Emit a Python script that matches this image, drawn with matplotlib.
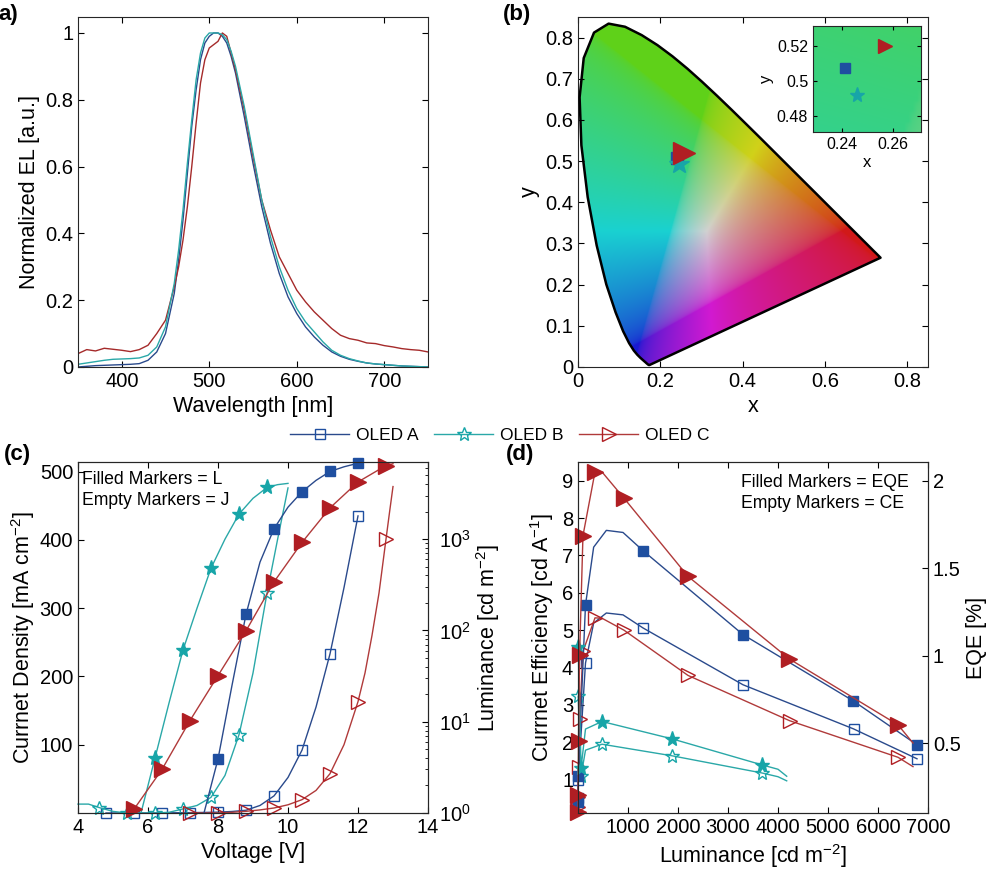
import numpy as np
import matplotlib.pyplot as plt
from matplotlib.patches import Polygon
from matplotlib.lines import Line2D

plt.rcParams['font.family'] = ['Liberation Sans', 'DejaVu Sans']
plt.rcParams['mathtext.default'] = 'regular'
plt.rcParams['xtick.direction'] = 'in'
plt.rcParams['ytick.direction'] = 'in'
plt.rcParams['xtick.major.size'] = 4
plt.rcParams['ytick.major.size'] = 4
plt.rcParams['xtick.minor.size'] = 2
plt.rcParams['ytick.minor.size'] = 2
plt.rcParams['axes.linewidth'] = 0.8
plt.rcParams['axes.edgecolor'] = '#262626'

# ---- colours
blue_m, blue_l = '#1f4fa0', '#2a4a8c'
teal_m, teal_l = '#17a5a8', '#2aa8a8'
red_m, red_l = '#b01e23', '#b03a3a'

# ---- (a) EL spectra
wavelength = [350, 360, 370, 380, 390, 400, 410, 420, 430, 440, 450, 460, 465, 470, 475,
              480, 485, 490, 495, 500, 505, 510, 515, 520, 525, 530, 540, 550, 560, 570,
              580, 590, 600, 610, 620, 630, 640, 650, 660, 670, 680, 690, 700, 710, 720,
              730, 740, 750]
el_a = [0.0, 0.002, 0.004, 0.005, 0.006, 0.007, 0.008, 0.010, 0.020, 0.045, 0.10, 0.22,
        0.32, 0.44, 0.58, 0.72, 0.83, 0.92, 0.97, 0.99, 1.0, 1.0, 0.99, 0.97, 0.93, 0.88,
        0.75, 0.61, 0.48, 0.37, 0.28, 0.21, 0.16, 0.12, 0.09, 0.065, 0.045, 0.032,
        0.023, 0.017, 0.012, 0.009, 0.007, 0.005, 0.003, 0.002, 0.001, 0.0]
el_b = [0.008, 0.012, 0.016, 0.020, 0.023, 0.024, 0.025, 0.027, 0.035, 0.06, 0.12, 0.25,
        0.35, 0.47, 0.61, 0.74, 0.86, 0.94, 0.985, 1.0, 1.0, 1.0, 0.995, 0.98, 0.945,
        0.90, 0.78, 0.64, 0.50, 0.39, 0.30, 0.23, 0.175, 0.135, 0.105, 0.075, 0.05,
        0.035, 0.025, 0.018, 0.012, 0.009, 0.007, 0.005, 0.003, 0.002, 0.001, 0.0]
el_c = [0.040, 0.052, 0.048, 0.056, 0.053, 0.050, 0.046, 0.052, 0.065, 0.10, 0.14, 0.24,
        0.30, 0.38, 0.48, 0.60, 0.73, 0.85, 0.92, 0.955, 0.965, 0.975, 1.0, 0.99, 0.94,
        0.89, 0.77, 0.63, 0.50, 0.41, 0.33, 0.28, 0.23, 0.195, 0.165, 0.14, 0.115,
        0.095, 0.085, 0.080, 0.072, 0.070, 0.064, 0.060, 0.055, 0.052, 0.050, 0.045]

# ---- (b) CIE 1931 spectral locus (380-700 nm) and colour coordinates
cie_x = [0.1741, 0.1740, 0.1738, 0.1736, 0.1733, 0.1730, 0.1726, 0.1721, 0.1714, 0.1703,
         0.1689, 0.1669, 0.1644, 0.1611, 0.1566, 0.1510, 0.1440, 0.1355, 0.1241, 0.1096,
         0.0913, 0.0687, 0.0454, 0.0235, 0.0082, 0.0039, 0.0139, 0.0389, 0.0743, 0.1142,
         0.1547, 0.1929, 0.2296, 0.2658, 0.3016, 0.3373, 0.3731, 0.4087, 0.4441, 0.4788,
         0.5125, 0.5448, 0.5752, 0.6029, 0.6270, 0.6482, 0.6658, 0.6801, 0.6915, 0.7006,
         0.7079, 0.7140, 0.7190, 0.7230, 0.7260, 0.7283, 0.7300, 0.7311, 0.7320, 0.7327,
         0.7334, 0.7340, 0.7344, 0.7346, 0.7347]
cie_y = [0.0050, 0.0050, 0.0049, 0.0049, 0.0048, 0.0048, 0.0048, 0.0048, 0.0051, 0.0058,
         0.0069, 0.0086, 0.0109, 0.0138, 0.0177, 0.0227, 0.0297, 0.0399, 0.0578, 0.0868,
         0.1327, 0.2007, 0.2950, 0.4127, 0.5384, 0.6548, 0.7502, 0.8120, 0.8338, 0.8262,
         0.8059, 0.7816, 0.7543, 0.7243, 0.6923, 0.6589, 0.6245, 0.5896, 0.5547, 0.5202,
         0.4866, 0.4544, 0.4242, 0.3965, 0.3725, 0.3514, 0.3340, 0.3197, 0.3083, 0.2993,
         0.2920, 0.2859, 0.2809, 0.2770, 0.2740, 0.2717, 0.2700, 0.2689, 0.2680, 0.2673,
         0.2666, 0.2660, 0.2656, 0.2654, 0.2653]
cie_a = (0.2409, 0.5071)
cie_b = (0.2460, 0.4918)
cie_c = (0.2567, 0.5198)

# ---- (c) J-V-L
volt_a_j = [4.8, 5.2, 5.6, 6.0, 6.4, 6.8, 7.2, 7.6, 8.0, 8.4, 8.8, 9.2, 9.6, 10.0, 10.4,
            10.8, 11.2, 11.6, 12.0]
curr_a = [0, 0, 0, 0, 0.2, 0.3, 0.5, 0.8, 1.2, 2.2, 4, 11, 25, 52, 92, 155, 233, 330, 435]
mark_a_j = [4.8, 5.6, 6.4, 7.2, 8.0, 8.8, 9.6, 10.4, 11.2, 12.0]
volt_b_j = [4.0, 4.3, 4.6, 5.0, 5.4, 5.8, 6.2, 6.6, 7.0, 7.4, 7.8, 8.2, 8.6, 9.0, 9.4,
            9.7, 10.0]
curr_b = [13, 13, 8, 2.3, 0, 0, 0, 1, 5.9, 11, 22.9, 55, 114.6, 205, 322, 400, 476]
mark_b_j = [4.6, 5.4, 6.2, 7.0, 7.8, 8.6, 9.4]
volt_c_j = [7.2, 7.6, 8.0, 8.4, 8.8, 9.2, 9.6, 10.0, 10.4, 10.8, 11.2, 11.6, 12.0, 12.2,
            12.4, 12.6, 12.8, 12.9, 13.0]
curr_c = [0, 0, 0, 1, 2.4, 4.5, 7.3, 12, 19.5, 33, 57.5, 100, 163, 205, 260, 322, 401,
          440, 478]
mark_c_j = [7.2, 8.0, 8.8, 9.6, 10.4, 11.2, 12.0, 12.8]

volt_a_l = [7.6, 8.0, 8.4, 8.8, 9.2, 9.6, 10.0, 10.4, 10.8, 11.2, 11.6, 12.0]
lum_a = [1.0, 3.9, 25, 150, 560, 1300, 2240, 3300, 4400, 5510, 6200, 6780]
mark_a_l = [8.0, 8.8, 9.6, 10.4, 11.2, 12.0]
volt_b_l = [5.8, 6.2, 6.6, 7.0, 7.4, 7.8, 8.2, 8.6, 9.0, 9.4, 9.7, 10.0]
lum_b = [1.0, 4.0, 16, 61, 175, 480, 1000, 1880, 2800, 3680, 3950, 4080]
mark_b_l = [6.2, 7.0, 7.8, 8.6, 9.4]
volt_c_l = [5.6, 6.4, 7.2, 8.0, 8.8, 9.6, 10.4, 11.2, 12.0, 12.8, 13.0]
lum_c = [1.1, 3.0, 10.3, 32, 99, 340, 920, 2200, 4230, 6400, 6700]
mark_c_l = [5.6, 6.4, 7.2, 8.0, 8.8, 9.6, 10.4, 11.2, 12.0, 12.8]

# ---- (d) efficiencies vs luminance
lumd_a = [0.5, 3.9, 150, 313, 567, 900, 1300, 3300, 5510, 6780]
eqe_a = [0.16, 0.31, 1.29, 1.62, 1.716, 1.704, 1.60, 1.12, 0.74, 0.49]
ce_a = [0.5, 1.0, 4.12, 5.19, 5.46, 5.41, 5.06, 3.54, 2.36, 1.56]
mark_a_d = [0.5, 3.9, 150, 1300, 3300, 5510, 6780]
lumd_b = [4.0, 61, 150, 480, 1880, 3680, 4000, 4174]
eqe_b = [1.05, 0.357, 0.58, 0.623, 0.524, 0.375, 0.35, 0.31]
ce_b = [3.23, 1.10, 1.79, 1.95, 1.64, 1.18, 1.08, 0.97]
mark_b_d = [4.0, 61, 480, 1880, 3680]
lumd_c = [1.1, 3.0, 10.3, 32, 99, 340, 480, 920, 2200, 4230, 6400, 6700]
eqe_c = [0.108, 0.204, 0.509, 1.005, 1.685, 2.05, 2.05, 1.90, 1.453, 0.98, 0.604, 0.50]
ce_c = [0.28, 0.53, 1.33, 2.63, 4.43, 5.33, 5.32, 5.0, 3.79, 2.58, 1.60, 1.35]
mark_c_d = [1.1, 3.0, 10.3, 32, 99, 340, 920, 2200, 4230, 6400]


def idx(xs, marks):
    return [xs.index(m) for m in marks]


fig = plt.figure(figsize=(10, 8.83), dpi=100)
tick_fs, label_fs, note_fs = 14.5, 15.5, 12.7

# ================= (a)
ax = fig.add_axes([0.078, 0.5844, 0.350, 0.3964])
ax.plot(wavelength, el_a, color=blue_l, lw=1.0)
ax.plot(wavelength, el_c, color='#a52a2a', lw=1.0)
ax.plot(wavelength, el_b, color=teal_l, lw=1.0)
ax.set_xlim(350, 750)
ax.set_ylim(0, 1.048)
ax.set_xticks([400, 500, 600, 700])
ax.set_yticks([0, 0.2, 0.4, 0.6, 0.8, 1])
ax.set_yticklabels(['0', '0.2', '0.4', '0.6', '0.8', '1'])
ax.tick_params(top=True, right=True, labelsize=tick_fs)
ax.set_xlabel('Wavelength [nm]', fontsize=label_fs)
ax.set_ylabel('Normalized EL [a.u.]', fontsize=label_fs)


# ================= (b)
def chroma_image(n=500, lim=0.85):
    g = np.linspace(0, lim, n)
    xx, yy = np.meshgrid(g, g)
    yy_s = np.maximum(yy, 1e-3)
    X = xx / yy_s
    Z = (1 - xx - yy) / yy_s
    M = np.array([[3.2406, -1.5372, -0.4986],
                  [-0.9689, 1.8758, 0.0415],
                  [0.0557, -0.2040, 1.0570]])
    xyz = np.stack([X, np.ones_like(X), Z], axis=-1)
    rgb = xyz @ M.T
    rgb = np.clip(rgb, 0, None)
    rgb = rgb / np.maximum(rgb.max(axis=-1, keepdims=True), 1e-6)
    rgb = rgb ** (1 / 2.2)
    r, gch, b = rgb[..., 0], rgb[..., 1], rgb[..., 2]
    rgb[..., 0] = r + 0.38 * gch * (1 - b) * (1 - r)
    rgb = 0.72 * rgb + 0.1
    return np.clip(rgb, 0, 1)


img = chroma_image()
ax = fig.add_axes([0.578, 0.5844, 0.350, 0.3964])
im = ax.imshow(img, extent=[0, 0.85, 0, 0.85], origin='lower', aspect='auto',
               interpolation='bilinear')
locus = Polygon(np.column_stack([cie_x, cie_y]), closed=True, facecolor='none',
                edgecolor='black', lw=1.8, zorder=3, joinstyle='round')
ax.add_patch(locus)
im.set_clip_path(locus)
ax.plot(*cie_a, marker='s', ms=9, color=blue_m, ls='none', zorder=4)
ax.plot(*cie_b, marker='*', ms=15, color=teal_m, ls='none', zorder=4)
ax.plot(*cie_c, marker='>', ms=16, color=red_m, ls='none', zorder=5)
ax.set_xlim(0, 0.85)
ax.set_ylim(0, 0.85)
ax.set_xticks([0, 0.2, 0.4, 0.6, 0.8])
ax.set_xticklabels(['0', '0.2', '0.4', '0.6', '0.8'])
ax.set_yticks([0, 0.1, 0.2, 0.3, 0.4, 0.5, 0.6, 0.7, 0.8])
ax.set_yticklabels(['0', '0.1', '0.2', '0.3', '0.4', '0.5', '0.6', '0.7', '0.8'])
ax.tick_params(top=True, right=True, labelsize=tick_fs)
ax.set_xlabel('x', fontsize=label_fs)
ax.set_ylabel('y', fontsize=label_fs)

axi = fig.add_axes([0.813, 0.8505, 0.108, 0.120])
axi.imshow(img, extent=[0, 0.85, 0, 0.85], origin='lower', aspect='auto',
           interpolation='bilinear')
axi.plot(*cie_a, marker='s', ms=7, color=blue_m, ls='none')
axi.plot(*cie_b, marker='*', ms=11, color=teal_m, ls='none')
axi.plot(*cie_c, marker='>', ms=10, color=red_m, ls='none')
axi.set_xlim(0.2285, 0.271)
axi.set_ylim(0.4707, 0.5313)
axi.set_xticks([0.24, 0.26])
axi.set_yticks([0.48, 0.5, 0.52])
axi.set_yticklabels(['0.48', '0.5', '0.52'])
axi.tick_params(top=True, right=True, labelsize=11.5, length=3)
axi.set_xlabel('x', fontsize=12, labelpad=2)
axi.set_ylabel('y', fontsize=12, labelpad=2)

# ================= (c)
ax = fig.add_axes([0.078, 0.0793, 0.350, 0.3975])
ax2 = ax.twinx()
ax2.set_yscale('log')
ax.plot(volt_a_j, curr_a, color=blue_l, lw=1.0, marker='s', ms=7, mfc='none',
        mec=blue_m, markevery=idx(volt_a_j, mark_a_j), clip_on=False)
ax.plot(volt_b_j, curr_b, color=teal_l, lw=1.0, marker='*', ms=10, mfc='none',
        mec=teal_m, markevery=idx(volt_b_j, mark_b_j), clip_on=False)
ax.plot(volt_c_j, curr_c, color=red_l, lw=1.0, marker='>', ms=10, mfc='none',
        mec=red_m, markevery=idx(volt_c_j, mark_c_j), clip_on=False)
ax2.plot(volt_a_l, lum_a, color=blue_l, lw=1.0, marker='s', ms=7, mfc=blue_m,
         mec=blue_m, markevery=idx(volt_a_l, mark_a_l), clip_on=False)
ax2.plot(volt_b_l, lum_b, color=teal_l, lw=1.0, marker='*', ms=11, mfc=teal_m,
         mec=teal_m, markevery=idx(volt_b_l, mark_b_l), clip_on=False)
ax2.plot(volt_c_l, lum_c, color=red_l, lw=1.0, marker='>', ms=11, mfc=red_m,
         mec=red_m, markevery=idx(volt_c_l, mark_c_l), clip_on=False)
ax.set_xlim(4, 14)
ax.set_ylim(0, 514)
ax2.set_ylim(1, 7000)
ax.set_xticks([4, 6, 8, 10, 12, 14])
ax.set_yticks([100, 200, 300, 400, 500])
ax.tick_params(top=True, right=False, labelsize=tick_fs)
ax2.tick_params(which='both', labelsize=tick_fs, pad=8)
ax2.set_yticks([1, 10, 100, 1000])
ax.set_xlabel('Voltage [V]', fontsize=label_fs)
ax.set_ylabel('Currnet Density [mA cm$^{-2}$]', fontsize=label_fs, labelpad=2)
ax2.set_ylabel('Luminance [cd m$^{-2}$]', fontsize=label_fs, labelpad=2)
ax.text(0.012, 0.975, 'Filled Markers = L\nEmpty Markers = J', transform=ax.transAxes,
        ha='left', va='top', fontsize=note_fs, linespacing=1.3)

# ================= (d)
ax = fig.add_axes([0.578, 0.0793, 0.350, 0.3975])
ax2 = ax.twinx()
ax.plot(lumd_a, ce_a, color=blue_l, lw=1.0, marker='s', ms=7, mfc='none', mec=blue_m,
        markevery=idx(lumd_a, mark_a_d), clip_on=False)
ax.plot(lumd_b, ce_b, color=teal_l, lw=1.0, marker='*', ms=10, mfc='none', mec=teal_m,
        markevery=idx(lumd_b, mark_b_d), clip_on=False)
ax.plot(lumd_c, ce_c, color=red_l, lw=1.0, marker='>', ms=10, mfc='none', mec=red_m,
        markevery=idx(lumd_c, mark_c_d), clip_on=False)
ax2.plot(lumd_a, eqe_a, color=blue_l, lw=1.0, marker='s', ms=7, mfc=blue_m, mec=blue_m,
         markevery=idx(lumd_a, mark_a_d), clip_on=False)
ax2.plot(lumd_b, eqe_b, color=teal_l, lw=1.0, marker='*', ms=11, mfc=teal_m, mec=teal_m,
         markevery=idx(lumd_b, mark_b_d), clip_on=False)
ax2.plot(lumd_c, eqe_c, color=red_l, lw=1.0, marker='>', ms=11, mfc=red_m, mec=red_m,
         markevery=idx(lumd_c, mark_c_d), clip_on=False)
ax.set_xlim(0, 7000)
ax.set_ylim(0.11, 9.5)
ax2.set_ylim(0.1, 2.107)
ax.set_xticks([1000, 2000, 3000, 4000, 5000, 6000, 7000])
ax.set_yticks([1, 2, 3, 4, 5, 6, 7, 8, 9])
ax2.set_yticks([0.5, 1, 1.5, 2])
ax2.set_yticklabels(['0.5', '1', '1.5', '2'])
ax.tick_params(top=True, right=False, labelsize=tick_fs)
ax2.tick_params(labelsize=tick_fs)
ax.set_xlabel('Luminance [cd m$^{-2}$]', fontsize=label_fs)
ax.set_ylabel('Currnet Efficiency [cd A$^{-1}$]', fontsize=label_fs)
ax2.set_ylabel('EQE [%]', fontsize=label_fs)
ax.text(0.465, 0.965, 'Filled Markers = EQE\nEmpty Markers = CE', transform=ax.transAxes,
        ha='left', va='top', fontsize=note_fs, linespacing=1.3)

# ---- legend
handles = [
    Line2D([], [], color=blue_l, lw=1.0, marker='s', ms=7, mfc='none', mec=blue_m),
    Line2D([], [], color=teal_l, lw=1.0, marker='*', ms=10, mfc='none', mec=teal_m),
    Line2D([], [], color=red_l, lw=1.0, marker='>', ms=10, mfc='none', mec=red_m),
]
fig.legend(handles, ['OLED A', 'OLED B', 'OLED C'], loc='center',
           bbox_to_anchor=(0.5, 0.507), ncol=3, frameon=False, fontsize=12.5,
           handlelength=3.4, columnspacing=0.9, handletextpad=0.4)

# ---- panel letters
fig.text(-0.002, 0.995, 'a)', fontsize=16, fontweight='bold', va='top')
fig.text(0.503, 0.995, '(b)', fontsize=16, fontweight='bold', va='top')
fig.text(0.004, 0.497, '(c)', fontsize=16, fontweight='bold', va='top')
fig.text(0.506, 0.497, '(d)', fontsize=16, fontweight='bold', va='top')

fig.savefig('out.png', dpi=100)
